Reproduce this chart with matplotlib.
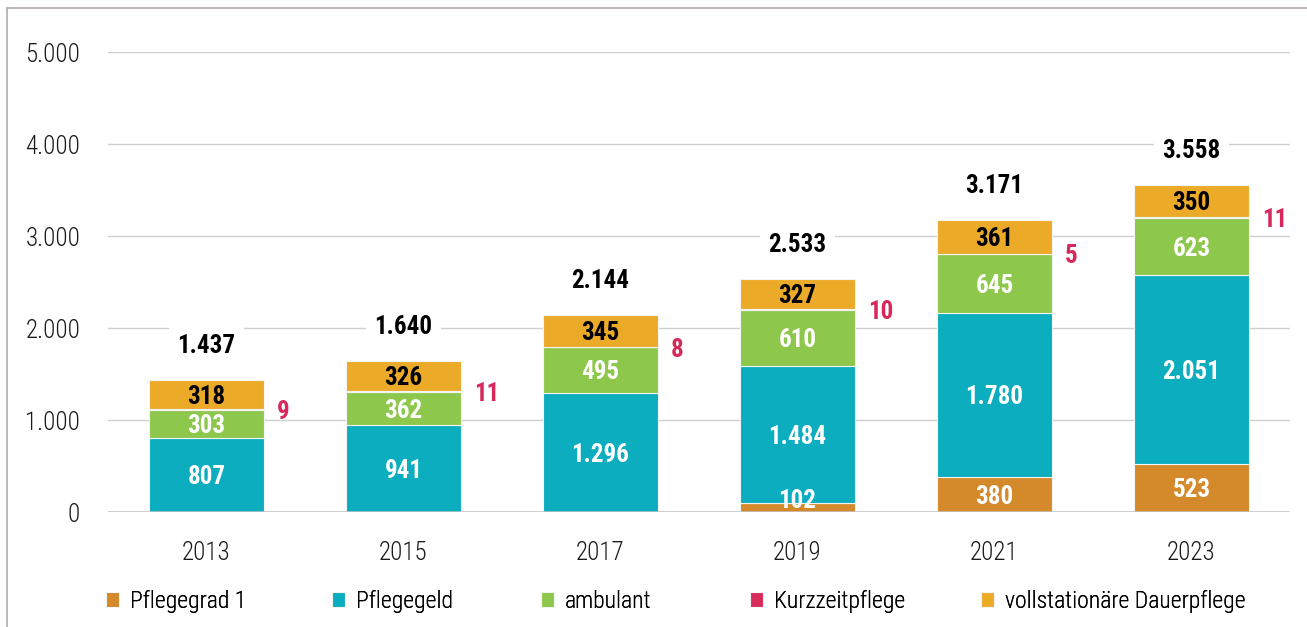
import matplotlib
matplotlib.use("Agg")
import matplotlib.pyplot as plt
from matplotlib import font_manager
from matplotlib.lines import Line2D
import numpy as np

# data
years = ["2013", "2015", "2017", "2019", "2021", "2023"]
pflegegrad1 = [0, 0, 0, 102, 380, 523]
pflegegeld = [807, 941, 1296, 1484, 1780, 2051]
ambulant = [303, 362, 495, 610, 645, 623]
kurzzeit = [9, 11, 8, 10, 5, 11]
dauerpflege = [318, 326, 345, 327, 361, 350]
totals = [1437, 1640, 2144, 2533, 3171, 3558]

series_names = ["Pflegegrad 1", "Pflegegeld", "ambulant", "Kurzzeitpflege",
                "vollstationäre Dauerpflege"]
series_colors = ["#D4892B", "#0BADBF", "#8DC84C", "#D72B5B", "#EBAA28"]
label_colors = ["white", "white", "white", None, "black"]

# pick a condensed font if one is installed
installed = {f.name for f in font_manager.fontManager.ttflist}
fam = "DejaVu Sans"
for cand in ["Roboto Condensed", "Liberation Sans Narrow", "Open Sans Condensed"]:
    if cand in installed:
        fam = cand
        break
plt.rcParams["font.family"] = [fam, "DejaVu Sans"]


def fmt(v):
    return "{:,}".format(v).replace(",", ".")


fig = plt.figure(figsize=(13.07, 6.27), dpi=100)
ax = fig.add_axes([0.0826, 0.1834, 0.9044, 0.7336])

x = np.arange(len(years))
width = 0.585
data = [pflegegrad1, pflegegeld, ambulant, kurzzeit, dauerpflege]
bottom = np.zeros(len(years))
handles = []
for k, vals in enumerate(data):
    vals = np.array(vals, dtype=float)
    b = ax.bar(x, vals, width, bottom=bottom, color=series_colors[k],
               edgecolor="#F4F4F4", linewidth=0.8, zorder=3,
               label=series_names[k])
    handles.append(b)
    for i in range(len(years)):
        if vals[i] <= 0:
            continue
        if k == 3:
            # Kurzzeitpflege: red label right of the bar
            ax.text(x[i] + width / 2 + 0.065, bottom[i] + vals[i] / 2 - 30,
                    fmt(int(vals[i])), color="#D6285A", fontsize=18,
                    fontweight="bold", ha="left", va="center", zorder=5)
        else:
            ymid = max(bottom[i] + vals[i] / 2, 150) - 25
            ax.text(x[i], ymid, fmt(int(vals[i])), color=label_colors[k],
                    fontsize=18, fontweight="bold", ha="center", va="center",
                    zorder=5)
    bottom += vals

for i in range(len(years)):
    ax.text(x[i], totals[i] + 370, fmt(totals[i]), fontsize=18,
            fontweight="bold", ha="center", va="center", zorder=5,
            bbox=dict(facecolor="white", edgecolor="none", pad=6))

ax.set_xlim(-0.5, len(years) - 0.5)
ax.set_ylim(0, 5000)
ax.set_yticks(np.arange(0, 5001, 1000))
ax.set_yticklabels([fmt(v) for v in range(0, 5001, 1000)])
ax.set_xticks(x)
ax.set_xticklabels(years)
ax.tick_params(axis="both", length=0, labelsize=18, colors="#1A1A1A")
ax.tick_params(axis="y", pad=20)
ax.tick_params(axis="x", pad=21)
for lab in ax.get_xticklabels() + ax.get_yticklabels():
    lab.set_fontweight("light")
ax.grid(axis="y", color="#CFCFCF", linewidth=1.0, zorder=0)
for s in ax.spines.values():
    s.set_visible(False)
ax.axhline(0, color="#C4C4C4", linewidth=1.8, zorder=4)

# one legend entry per column, at the reference column positions
legend_x = [106, 332, 541, 750, 981]
for h, name, lx in zip(handles, series_names, legend_x):
    lg = fig.legend(handles=[h], labels=[name], loc="center left",
                    bbox_to_anchor=(lx / 1307, 0.041), frameon=False,
                    fontsize=17, handlelength=0.56, handleheight=0.56,
                    handletextpad=0.45, borderpad=0, borderaxespad=0,
                    prop={"weight": "light", "size": 17})
    fig.add_artist(lg)

# thin frame on the left and top edges
fig.add_artist(Line2D([0.0054, 0.0054], [0, 0.987], color="#B5ABAB",
                      linewidth=1.2, transform=fig.transFigure))
fig.add_artist(Line2D([0.0054, 1.0], [0.987, 0.987], color="#B5ABAB",
                      linewidth=1.2, transform=fig.transFigure))

fig.savefig("out.png", dpi=100)
